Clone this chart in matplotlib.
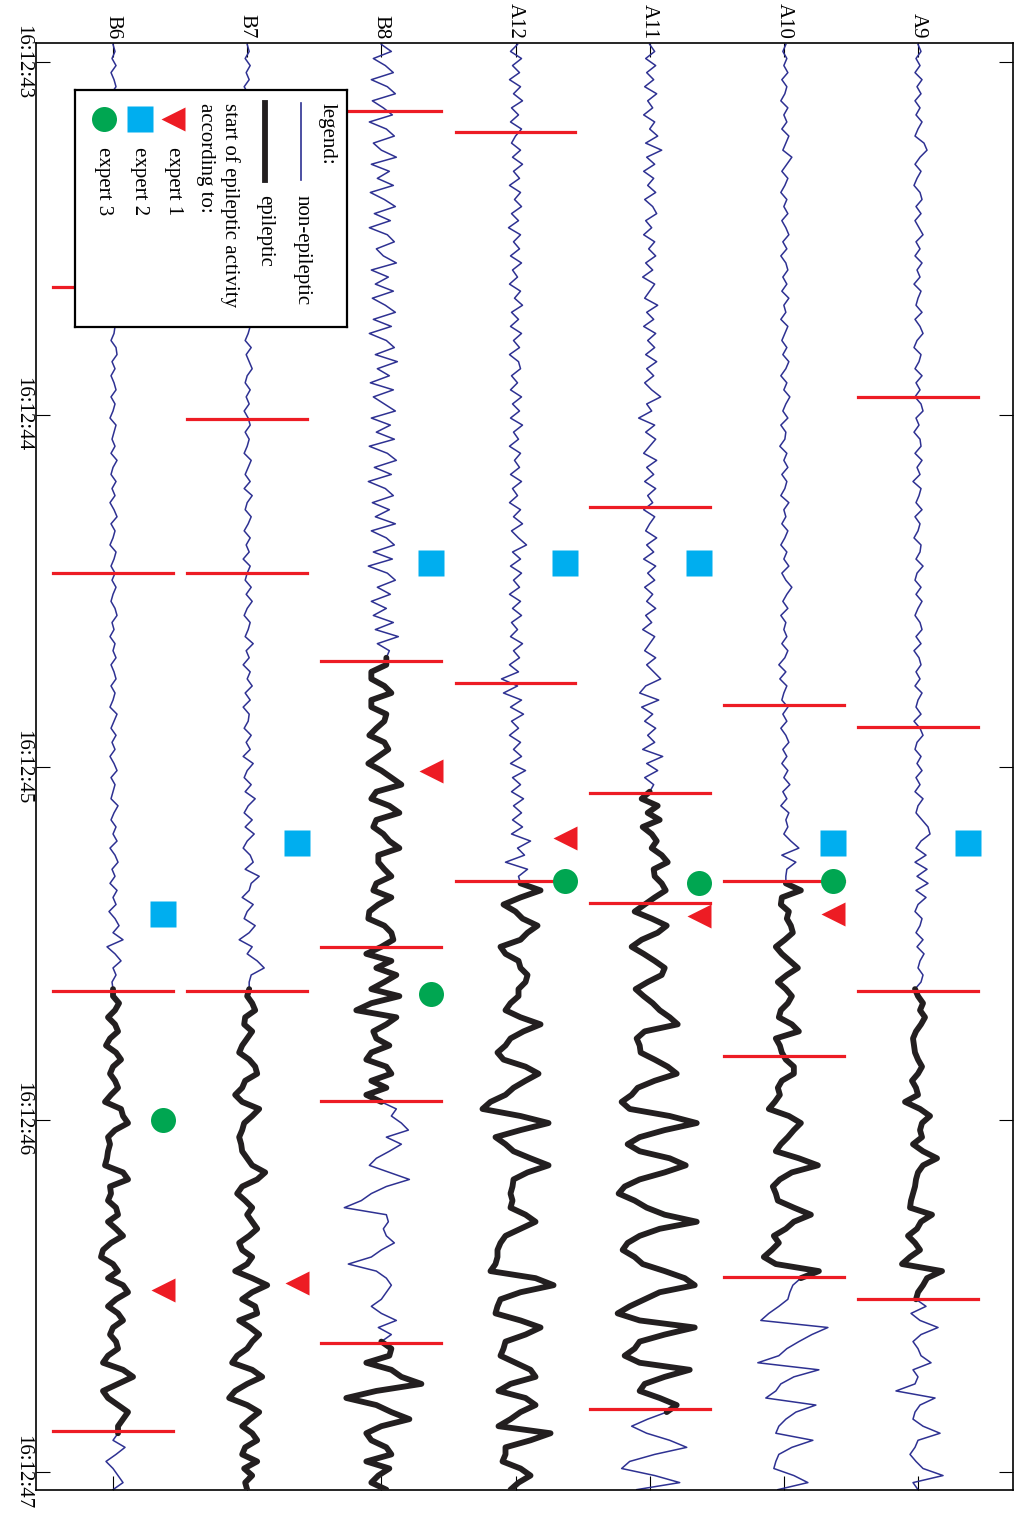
import numpy as np
import matplotlib
matplotlib.use("Agg")
import matplotlib.pyplot as plt

plt.rcParams['font.family'] = ['Liberation Serif', 'DejaVu Serif']

# ---- data -------------------------------------------------------------
# channels from left to right (A9 is the top trace of the unrotated plot)
channels = ["B6", "B7", "B8", "A12", "A11", "A10", "A9"]

# EEG samples, one every 20 ms starting at 16:12:42.95 (amplitude in plot units)
T0 = 42.95
DT = 0.02

a9 = [0, 3, -2, 2, -3, 4, -1, 3, -3, 2,
      -2, 4, 0, -3, 6, 9, 2, -3, 3, -1,
      -4, 2, 4, -2, 3, -3, 1, 5, -2, 2,
      -3, 4, -1, 2, -4, 3, 0, -2, 4, -3,
      2, 5, -1, -4, 3, 1, -3, 4, -2, 2,
      -3, 3, 5, -2, 1, -4, 2, 3, -3, 4,
      -1, 2, -5, 3, 1, -2, 4, -3, 2, 0,
      -4, 3, 2, -2, 5, -1, -3, 3, -2, 4,
      0, -3, 2, 4, -2, 3, -4, 1, 3, -2,
      2, -3, 4, 0, -2, 3, -4, 2, 5, -1,
      -3, 3, -1, 4, -2, 2, -3, 5, 0, -2,
      4, 10, 12, 3, -2, 8, -3, 9, -1, 10,
      -2, 8, 0, -3, 4, 2, -2, 5, -1, 6,
      2, 0, 5, 3,
      # seizure
      -3, 0, 5, 2, 7, 3, -2, -5, -4, -3,
      0, 4, 0, -6, -2, 0, -13, 2, 12, 4,
      2, 4, -5, 5, 19, 5, 0, -2, -3, -5,
      -7, -8, 14, 3, -1, -10, -3, 2, -8, -16,
      24, 9, 5, 0, -2,
      8, -7, 2, 20, 3, -5, 0, 3, 13, -5,
      0, -3, -22, 17, 2, -3, -5, 5, 22, 0,
      -3, -8, -2, 5, 25, -5, 0]

a10 = [2, -1, 3, 0, 4, -2, 3, 1, -3, 4,
       0, 3, -2, 5, 2, -1, 8, 3, -2, 4,
       1, -3, 3, 0, 4, -2, 2, 5, -1, 3,
       -3, 2, 4, -1, 3, -2, 5, 0, 2, -3,
       4, 1, -2, 3, -1, 5, 2, -3, 3, 0,
       6, 2, -1, 4, -3, 2, 1, -4, 3, 0,
       4, -2, 3, 1, -3, 5, 0, 2, -2, 4,
       1, -3, 3, 0, 5, -2, 2, 8, 3, -1,
       4, -3, 2, 0, 3, -2, 4, 1, -5, 2,
       -4, 3, 0, -2, 4, -1, 3, -3, 2, 5,
       -1, 3, -2, 4, 0, 6, -1, 3, -3, 5,
       2, 4, 0, 7, 15, -2, 12, 3, 2,
       # seizure
       2, 17, -2, -3, 5, 3, 7, 9, 1, -8,
       -2, 6, 14, 3, -6, 2, 8, 4, -3, -5,
       8, 15, -8, -4, -2, 2, 10, 10, -2, -6,
       -4, -9, -15, 5, 17, 10, 4, -3, -8, 15,
       34, 8, -4, -11, -8, -6, 10, 27, 10, 2,
       -10, -5, -12, -20, -8, 35, 17,
       9, 6, 4, -5, -15, -23, 44, 28, 15, 3,
       -5, -26, 35, 10, -3, -8, -18, 32, 12, 2,
       -5, -8, 29, 8, -5, -8, -10, 10, 24, -6]

a11 = [0, 5, -4, 6, -3, 4, -5, 7, -2, 3,
       -6, 5, 0, 8, -4, 12, -3, 5, -6, 4,
       -2, 6, -5, 3, 7, -4, 2, -6, 5, -1,
       6, -4, 3, -7, 5, 0, -5, 8, -3, 4,
       -6, 6, -2, 5, -4, 7, -3, 4, -5, 2,
       11, -3, 2, -11, 5, -4, 6, 0, -6, 7,
       -3, 4, -5, 6, -2, 3, -6, 5, 0, -4,
       7, -3, 4, -6, 6, -2, 5, -5, 3, -3,
       6, -4, 2, -7, 5, 0, -5, 6, -3, 4,
       11, -4, -10, 9, -8, 3, -5, 6, -2, 5,
       -7, 13, -3, 8, -5, 4,
       # seizure
       0, -8, 8, -2, 10, -7, 2, 7, 2, 12,
       18, 4, 5, 12, 16, 5, -5, -15, 2, 17,
       8, -8, -18, -6, 5, 15, 12, -2, -14, -6,
       3, 10, 20, 28, -5, -13, -10, -9, 5, 18,
       27, 5, -12, -18, -28, -20, 20, 47, 15, -10,
       -22, -10, 20, 36, 15, -10, -25, -31, -15, -3,
       15, 47, 10, -10, -22, -27, -15, -7, 15, 35,
       45, 10, -5, -20, -32, -10, 45, 15, -10, -15,
       -25, -10, 40, 15, -5, -10, 10, 27, 17,
       -2, -18, -3, 20, 37, 5, -20, -28, 5, 30, -13]

a12 = [2, -5, 6, -3, 4, -6, 5, -2, 7, -4,
       3, -5, 6, 0, -4, 5, -3, 7, -2, 4,
       -6, 5, -1, 6, -4, 3, -7, 5, -2, 4,
       -5, 6, -3, 2, -6, 5, -1, 7, -4, 3,
       -5, 6, -2, 4, -6, 3, 5, -4, 2, -5,
       6, -3, 4, -5, 7, -2, 3, -6, 5, -1,
       4, -5, 6, -3, 2, -6, 5, -2, 7, -4,
       3, 11, -3, 5, -5, 6, -2, 4, -6, 5,
       -3, 6, -4, 2, -5, 7, -2, 4, -6, 3,
       -14, 2, -12, 6, -5, 8, -4, 3, -6, 5,
       -2, 6, -5, 10, -3, 5, -4, 8, -2, 6,
       -3, 7, -4, 15, 2, 9, -10, 12, 3,
       # seizure
       5, 25, 5, -12, 0, 7, 22, 12, 5, -15,
       -10, 3, 5, 12, 10, 3, 3, -5, -10, 5,
       25, 8, -5, -10, -18, -12, 10, 23, 10, -2,
       -10, -25, -33, 5, 33, 5, -20, -10, -2, 15,
       33, 12, -2, -3, -5, -3, -5, 10, 20, 5,
       -10, -15, -18, -18, -20, -25, 20, 38, 5, -15,
       -18, -20, 5, 25, 10, -10, -12, -15, 0, 15,
       20, -5, -17, 10, 20, 5, -5, -17, 35, 15,
       -10, -10, -13, 5, 15, 3, -5]

b8 = [0, 10, -8, 4, 12, -10, 6, 14, -9, 2,
      11, -12, 5, 13, -8, 0, 15, -10, 8, -4,
      12, -11, 3, 14, -7, 9, -12, 6, 13, -5,
      2, 15, -10, 7, -6, 12, -9, 4, 14, -8,
      10, -12, 5, 13, -6, 16, -4, 8, -11, 12,
      -8, 3, 14, -10, 9, -5, 13, -12, 6, 15,
      -7, 10, -13, 4, 12, -9, 8, -6, 14, -10,
      5, 13, -8, 11, -13, 6, 14, -4, 9, -10,
      5, -8, 12, -6, 17, -4, 8, 5,
      # seizure
      5, -10, -10, 3, 10, -10, -10, 5, 3, -5,
      -12, 3, 7, -3, -13, 0, 10, 20, -5, -10,
      8, 18, -5, -8, 2, 8, 18, -3, -3, 3,
      10, -5, -8, 10, -3, -12, -13, 3, 10, 12,
      0, -15, 10, -5, 15, 3, -10, 18, -10, -25,
      15, 5, -8, -5, 8, -10, -15, 5, 10, -10,
      5, -15, 0,
      15, 10, 20, 27, 5, 20, 8, -5, -12, 8,
      28, 5, -10, -20, -37, 5, 7, 2, 5, 13,
      0, -10, -33, -5, 5, 10, 5, 0, -10, 0,
      15, -3, 10, 0,
      # seizure again
      10, 8, -15, 10, 20, 40, -5, -35, -5, 10,
      28, 0, -15, -10, 5, 10, -15, 8, -3, -10, 5]

b7 = [0, 2, -2, 3, -1, 2, -3, 1, 3, -2,
      2, -1, 4, -2, 1, -3, 2, 0, 3, -2,
      1, -3, 2, 4, -1, 2, -2, 3, 0, -3,
      2, 1, -2, 3, -1, 4, 0, -2, 2, -3,
      3, 1, -2, 4, -1, 2, 5, 0, -2, 3,
      -1, 2, -3, 1, 3, -2, 2, 0, -3, 4,
      1, -2, 3, -3, 5, 0, -2, 4, 1, -3,
      3, -1, 2, -4, 3, 0, -2, 4, -1, 5,
      0, -3, 3, 1, -2, 6, -1, 2, -4, 3,
      0, 5, -2, 3, -4, 2, 1, -3, 4, -1,
      3, -4, 6, 0, -3, 4, -2, 8, 1, -3,
      5, -2, 7, 0, -4, 3, 6, -2, 12, 4,
      2, -5, 6, 0, -3, 8, 2, -8, 5, 0,
      10, 17, 4, 2,
      # seizure
      2, 0, 5, 8, -2, -3, 5, 0, -5, -8,
      2, 8, 10, -2, -5, -12, -5, 12, 5, -3,
      -5, -8, -6, -5, 0, 5, 18, 10, -5, -10,
      -2, 5, 0, 5, 10, 2, -8, -5, 5, 0,
      -12, 5, 20, 5, -5, 8, 10, -8, 3, 12,
      5, 0, -10, -15, 5, 15, 0, -12, -18, 0,
      12, 3, -5, 5, 10, -2, -5, 10, -3, 5,
      -2, 0]

b6 = [0, 2, -1, 3, -2, 1, 3, -2, 2, 0,
      -3, 2, 1, -2, 3, -1, 2, -3, 1, 2,
      -2, 3, 0, -2, 2, 4, -1, 1, -3, 2,
      0, 3, -2, 1, -1, 4, -2, 2, 0, -3,
      2, 1, -2, 3, 4, -1, 2, -2, 1, 3,
      -2, 2, 0, -3, 3, 1, -1, 2, -2, 4,
      0, -2, 3, -1, 2, -3, 1, 4, -2, 2,
      0, -3, 3, 1, -2, 2, -1, 3, 0, -2,
      2, 4, -1, 1, -3, 2, 0, 3, -2, 1,
      3, -2, 2, 0, -3, 4, 1, -2, 3, -1,
      2, -3, 1, 4, -2, 2, 0, -2, 5, 1,
      -2, 3, 0, 4, -3, 2, 5, -1, 2, -3,
      4, 0, 3, -4, 2, 6, 0, 10, -6, 2,
      8, 0, 3, -1,
      # seizure
      0, 0, 6, 2, -5, 2, 5, -3, -7, 3,
      8, 0, -3, 2, 5, -2, -8, 8, 10, 15,
      2, -5, -3, -5, -6, -8, 10, 15, -3, -2,
      -5, 3, 5, -5, 3, 10, -2, -10, -12, 0,
      5, -5, 10, 15, 3, -5, 5, 10, 0, -3,
      3, 5, -5, -10, 10, 20, 5, -10, -5, 5,
      15, 10, 5, 5,
      0, 12, 3, -7, 0, 5, 10, 0]

traces = [b6, b7, b8, a12, a11, a10, a9]

# epileptic periods (seconds of 16:12:xx)
epileptic = [[(45.635, 46.884)],
             [(45.635, 47.10)],
             [(44.699, 45.948), (46.634, 47.10)],
             [(45.323, 47.10)],
             [(45.074, 46.821)],
             [(45.323, 46.447)],
             [(45.635, 46.509)]]

# red boundary marks per channel
marks = [[43.638, 44.450, 45.635, 46.884],
         [44.013, 44.450, 45.635],
         [43.139, 44.699, 45.511, 45.948, 46.634],
         [43.199, 44.762, 45.323],
         [44.262, 45.074, 45.386, 46.821],
         [44.824, 45.323, 45.820, 46.447],
         [43.950, 44.887, 45.635, 46.509]]

# seizure onset according to the three experts (None = not marked)
expert1 = [46.484, 46.464, 45.011, 45.201, 45.423, 45.417, None]
expert2 = [45.417, 45.216, 44.421, 44.421, 44.421, 45.216, 45.216]
expert3 = [46.001, None, 45.644, 45.323, 45.329, 45.323, None]

time_ticks = [43, 44, 45, 46, 47]
time_labels = ["16:12:43", "16:12:44", "16:12:45", "16:12:46", "16:12:47"]

# ---- style -------------------------------------------------------------
NAVY = "#2E3192"
BLACK = "#231F20"
RED = "#ED1C24"
CYAN = "#00AEEF"
GREEN = "#00A651"
GAIN = 1 / 134.0
FS = 15

W, H = 1023, 1520
fig = plt.figure(figsize=(W / 100, H / 100), dpi=100)
ax = fig.add_axes([36 / W, 1 - 1490 / H, 977 / W, 1447 / H])

for i, vals in enumerate(traces):
    v = np.array(vals, dtype=float)
    t = T0 + DT * np.arange(len(v))
    x = i + v * GAIN
    ax.plot(x, t, color=NAVY, lw=1.1, zorder=2)
    for s, e in epileptic[i]:
        m = (t >= s - 0.01) & (t <= e + 0.01)
        ax.plot(x[m], t[m], color=BLACK, lw=4.2, zorder=3,
                solid_joinstyle='round', solid_capstyle='round')
    for tm in marks[i]:
        ax.plot([i - 0.447, i + 0.447], [tm, tm], color=RED, lw=2.3, zorder=4)

off = 0.37
for i in range(len(channels)):
    if expert1[i] is not None:
        ax.plot(i + off, expert1[i], marker='<', ms=17, color=RED, mec='none', zorder=5)
    if expert2[i] is not None:
        ax.plot(i + off, expert2[i], marker='s', ms=18.5, color=CYAN, mec='none', zorder=5)
    if expert3[i] is not None:
        ax.plot(i + off, expert3[i], marker='o', ms=18, color=GREEN, mec='none', zorder=5)

ax.set_xlim(-0.574, 6.708)
ax.set_ylim(47.051, 42.946)
ax.set_xticks(range(len(channels)))
ax.set_xticklabels(channels, rotation=-90, fontsize=FS, va='bottom')
ax.set_yticks(time_ticks)
ax.set_yticklabels(time_labels, rotation=-90, fontsize=FS, va='center')
ax.tick_params(direction='in', length=10, width=0.8, top=True, right=True,
               labeltop=True, labelbottom=False, pad=3)
for sp in ax.spines.values():
    sp.set_linewidth(1.2)

# ---- legend (drawn in pixel coordinates) --------------------------------
lg = fig.add_axes([75 / W, 1 - 327 / H, 272 / W, 237 / H])
lg.set_xlim(75, 347)
lg.set_ylim(327, 90)
lg.set_xticks([])
lg.set_yticks([])
for sp in lg.spines.values():
    sp.set_linewidth(1.6)

def leg_text(x, y, s):
    lg.text(x, y, s, rotation=-90, rotation_mode='anchor', ha='left',
            va='center', fontsize=FS)

leg_text(327, 103, "legend:")
lg.plot([301, 301], [103, 180], color=NAVY, lw=1.2)
leg_text(302, 195, "non-epileptic")
lg.plot([265, 265], [103, 180], color=BLACK, lw=4.2)
leg_text(265, 195, "epileptic")
leg_text(230, 103, "start of epileptic activity")
leg_text(205, 103, "according to:")
lg.plot(173, 119, marker='<', ms=17, color=RED, mec='none')
leg_text(173, 147, "expert 1")
lg.plot(140, 119, marker='s', ms=18.5, color=CYAN, mec='none')
leg_text(140, 147, "expert 2")
lg.plot(104, 119, marker='o', ms=18, color=GREEN, mec='none')
leg_text(104, 147, "expert 3")

fig.savefig("out.png", dpi=100)
